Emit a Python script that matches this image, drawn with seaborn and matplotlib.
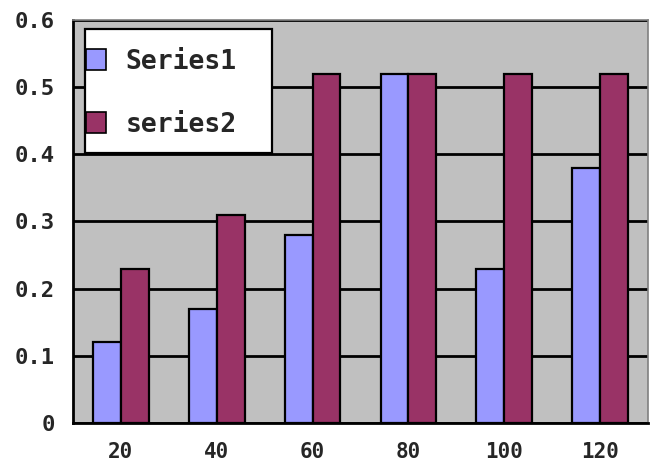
import matplotlib
matplotlib.use("Agg")
import matplotlib.pyplot as plt
from matplotlib.patches import Rectangle
import seaborn as sns
import pandas as pd
import numpy as np

categories = ["20", "40", "60", "80", "100", "120"]
series1 = [0.12, 0.17, 0.28, 0.52, 0.23, 0.38]
series2 = [0.23, 0.31, 0.52, 0.52, 0.52, 0.52]
series_names = ["Series1", "series2"]
yticks = [0, 0.1, 0.2, 0.3, 0.4, 0.5, 0.6]
ytick_labels = ["0", "0.1", "0.2", "0.3", "0.4", "0.5", "0.6"]

df = pd.DataFrame({
    "x": categories * 2,
    "value": series1 + series2,
    "series": [series_names[0]] * len(categories) + [series_names[1]] * len(categories),
})

sns.set_style("white")
plt.rcParams["font.family"] = ["DejaVu Sans Mono"]

W, H = 654, 467
L, R, T, B = 73, 648, 20, 423
fig = plt.figure(figsize=(W / 100, H / 100), dpi=100)
ax = fig.add_axes([L / W, 1 - B / H, (R - L) / W, (B - T) / H])
ax.set_facecolor("#C0C0C0")

sns.barplot(data=df, x="x", y="value", hue="series", order=categories,
            hue_order=series_names, palette=["#9999FF", "#993366"],
            width=0.58, gap=0, edgecolor="black", linewidth=1.6,
            saturation=1, ax=ax, zorder=3)

ax.set_xlim(-0.5, len(categories) - 0.5)
ax.set_ylim(0, 0.6)
ax.set_yticks(yticks)
ax.set_yticklabels(ytick_labels)
ax.yaxis.grid(True, color="black", linewidth=2, zorder=1)
ax.set_axisbelow(True)
ax.set_xlabel("")
ax.set_ylabel("")

# category separators on the bottom axis
ax.set_xticks(np.arange(len(categories)))
ax.set_xticklabels(categories)
ax.set_xticks(np.arange(len(categories) - 1) + 0.5, minor=True)
ax.tick_params(axis="x", which="major", length=0, pad=14, labelsize=15)
ax.tick_params(axis="x", which="minor", direction="in", length=6, width=1.8, color="black")
ax.tick_params(axis="y", which="major", direction="out", length=6, width=1.8,
               color="black", pad=7, labelsize=16)
for lab in ax.get_xticklabels() + ax.get_yticklabels():
    lab.set_fontweight("bold")

for side in ["left", "bottom"]:
    ax.spines[side].set_color("black")
    ax.spines[side].set_linewidth(2)
for side in ["top", "right"]:
    ax.spines[side].set_color("#808080")
    ax.spines[side].set_linewidth(1.2)

# legend box
box_l, box_r, box_t, box_b = 85, 272, 29, 153
to_ax = lambda px, py: ((px - L) / (R - L), (B - py) / (B - T))
bx0, by0 = to_ax(box_l, box_b)
bx1, by1 = to_ax(box_r, box_t)
ax.add_patch(Rectangle((bx0, by0), bx1 - bx0, by1 - by0, transform=ax.transAxes,
                       facecolor="white", edgecolor="black", linewidth=1.6,
                       zorder=4, clip_on=False))

leg = ax.legend(loc="upper left", bbox_to_anchor=to_ax(86, 49),
                frameon=False, handlelength=0.76, handleheight=0.85,
                handletextpad=0.75, labelspacing=1.4, borderpad=0,
                borderaxespad=0, prop={"family": "DejaVu Sans Mono",
                                        "weight": "bold", "size": 19})
for h in leg.legend_handles:
    h.set_linewidth(1.2)
leg.set_zorder(5)

fig.savefig("out.png", dpi=100)
